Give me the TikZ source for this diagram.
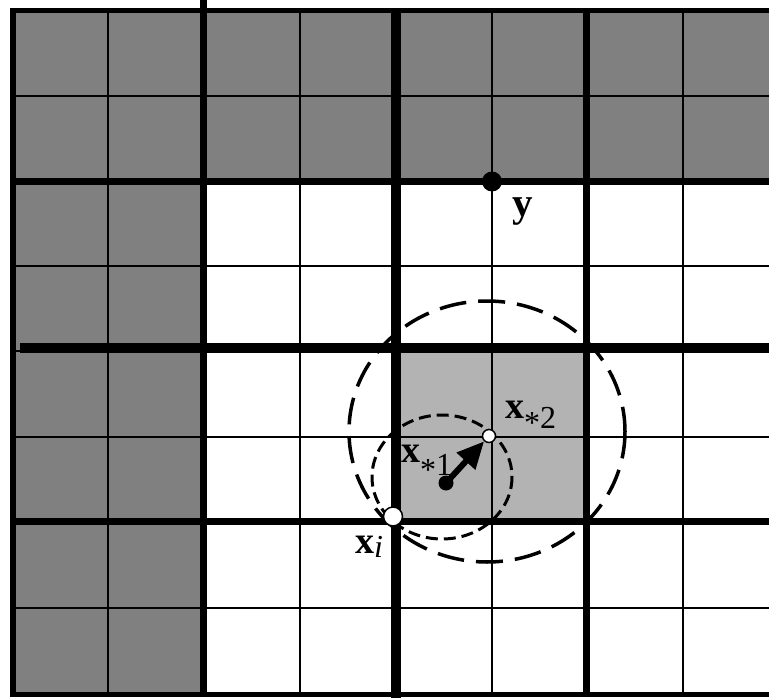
\documentclass[tikz,border=0pt]{standalone}
\usepackage{fontspec}
\setmainfont{Liberation Serif}
\usetikzlibrary{arrows.meta}
\definecolor{darkcell}{HTML}{808080}
\definecolor{lightcell}{HTML}{B3B3B3}
\tikzset{
  thinline/.style={line width=1.5pt, black},
  thickline/.style={line width=7pt, black},
  bigdash/.style={line width=3.5pt, dash pattern=on 27pt off 12pt},
  smalldash/.style={line width=3pt, dash pattern=on 12pt off 6pt},
  blackdot/.style={circle, fill=black, inner sep=0pt, minimum size=20pt},
  smalldot/.style={circle, fill=black, inner sep=0pt, minimum size=15pt},
  whitedot/.style={circle, fill=white, draw=black, line width=1.5pt, inner sep=0pt, minimum size=#1},
  lbl/.style={anchor=base west, inner sep=0pt, font=\fontsize{38}{38}\selectfont\bfseries},
  arr/.style={line width=6pt, -{Triangle[length=27pt,width=24pt]}}
}
\newcommand{\subtxt}[2]{{\fontsize{32}{32}\selectfont\mdseries\raisebox{#1}{#2}}}
\begin{document}
\begin{tikzpicture}[x=1pt,y=-1pt]
\useasboundingbox (0,0) rectangle (769,698);
% fills
\fill[darkcell] (13,10.5) -- (769,10.5) -- (769,182) -- (203,182) -- (203,694) -- (13,694) -- cycle;
\fill[lightcell] (396,348) rectangle (586,521);
% thin grid lines
\foreach \xx in {108,300,492,683} \draw[thinline] (\xx,10.5) -- (\xx,694);
\foreach \yy in {96,266,437,608} \draw[thinline] (13,\yy) -- (769,\yy);
\draw[thinline] (13,351) -- (20,351);
% thick grid lines
\draw[line width=5.5pt] (13,8) -- (13,697);
\draw[line width=4.5pt] (10,10.5) -- (769,10.5);
\draw[line width=5pt] (10,694.5) -- (769,694.5);
\draw[thickline] (203,0) -- (203,694);
\draw[line width=10pt] (396,10.5) -- (396,698);
\draw[thickline] (586,10.5) -- (586,694);
\draw[thickline] (13,182) -- (769,182);
\draw[line width=10pt] (20,348) -- (769,348);
\draw[thickline] (13,521.5) -- (769,521.5);
% dashed circles
\draw[bigdash] (487,431.5) ellipse [x radius=138, y radius=130.5];
\draw[smalldash] (442,477) ellipse [x radius=70, y radius=62];
% points
\node[blackdot] (y) at (492,181.5) {};
\node[smalldot] (x1) at (446,483) {};
\node[whitedot=13pt] (x2) at (489,436) {};
\node[whitedot=19pt] (xi) at (393,516.5) {};
\draw[arr] (x1.center) -- (x2);
% labels
\node[lbl, font=\fontsize{41}{41}\selectfont\bfseries] (ylab) at (512,216) {y};
\node[lbl] (x1lab) at (401,462) {x\subtxt{-13pt}{\raisebox{-5pt}{*}1}};
\node[lbl] (x2lab) at (505,418) {x\subtxt{-10pt}{\raisebox{-5pt}{*}2}};
\node[lbl] (xilab) at (355,553) {x\subtxt{-4pt}{\itshape i}};
\end{tikzpicture}
\end{document}
